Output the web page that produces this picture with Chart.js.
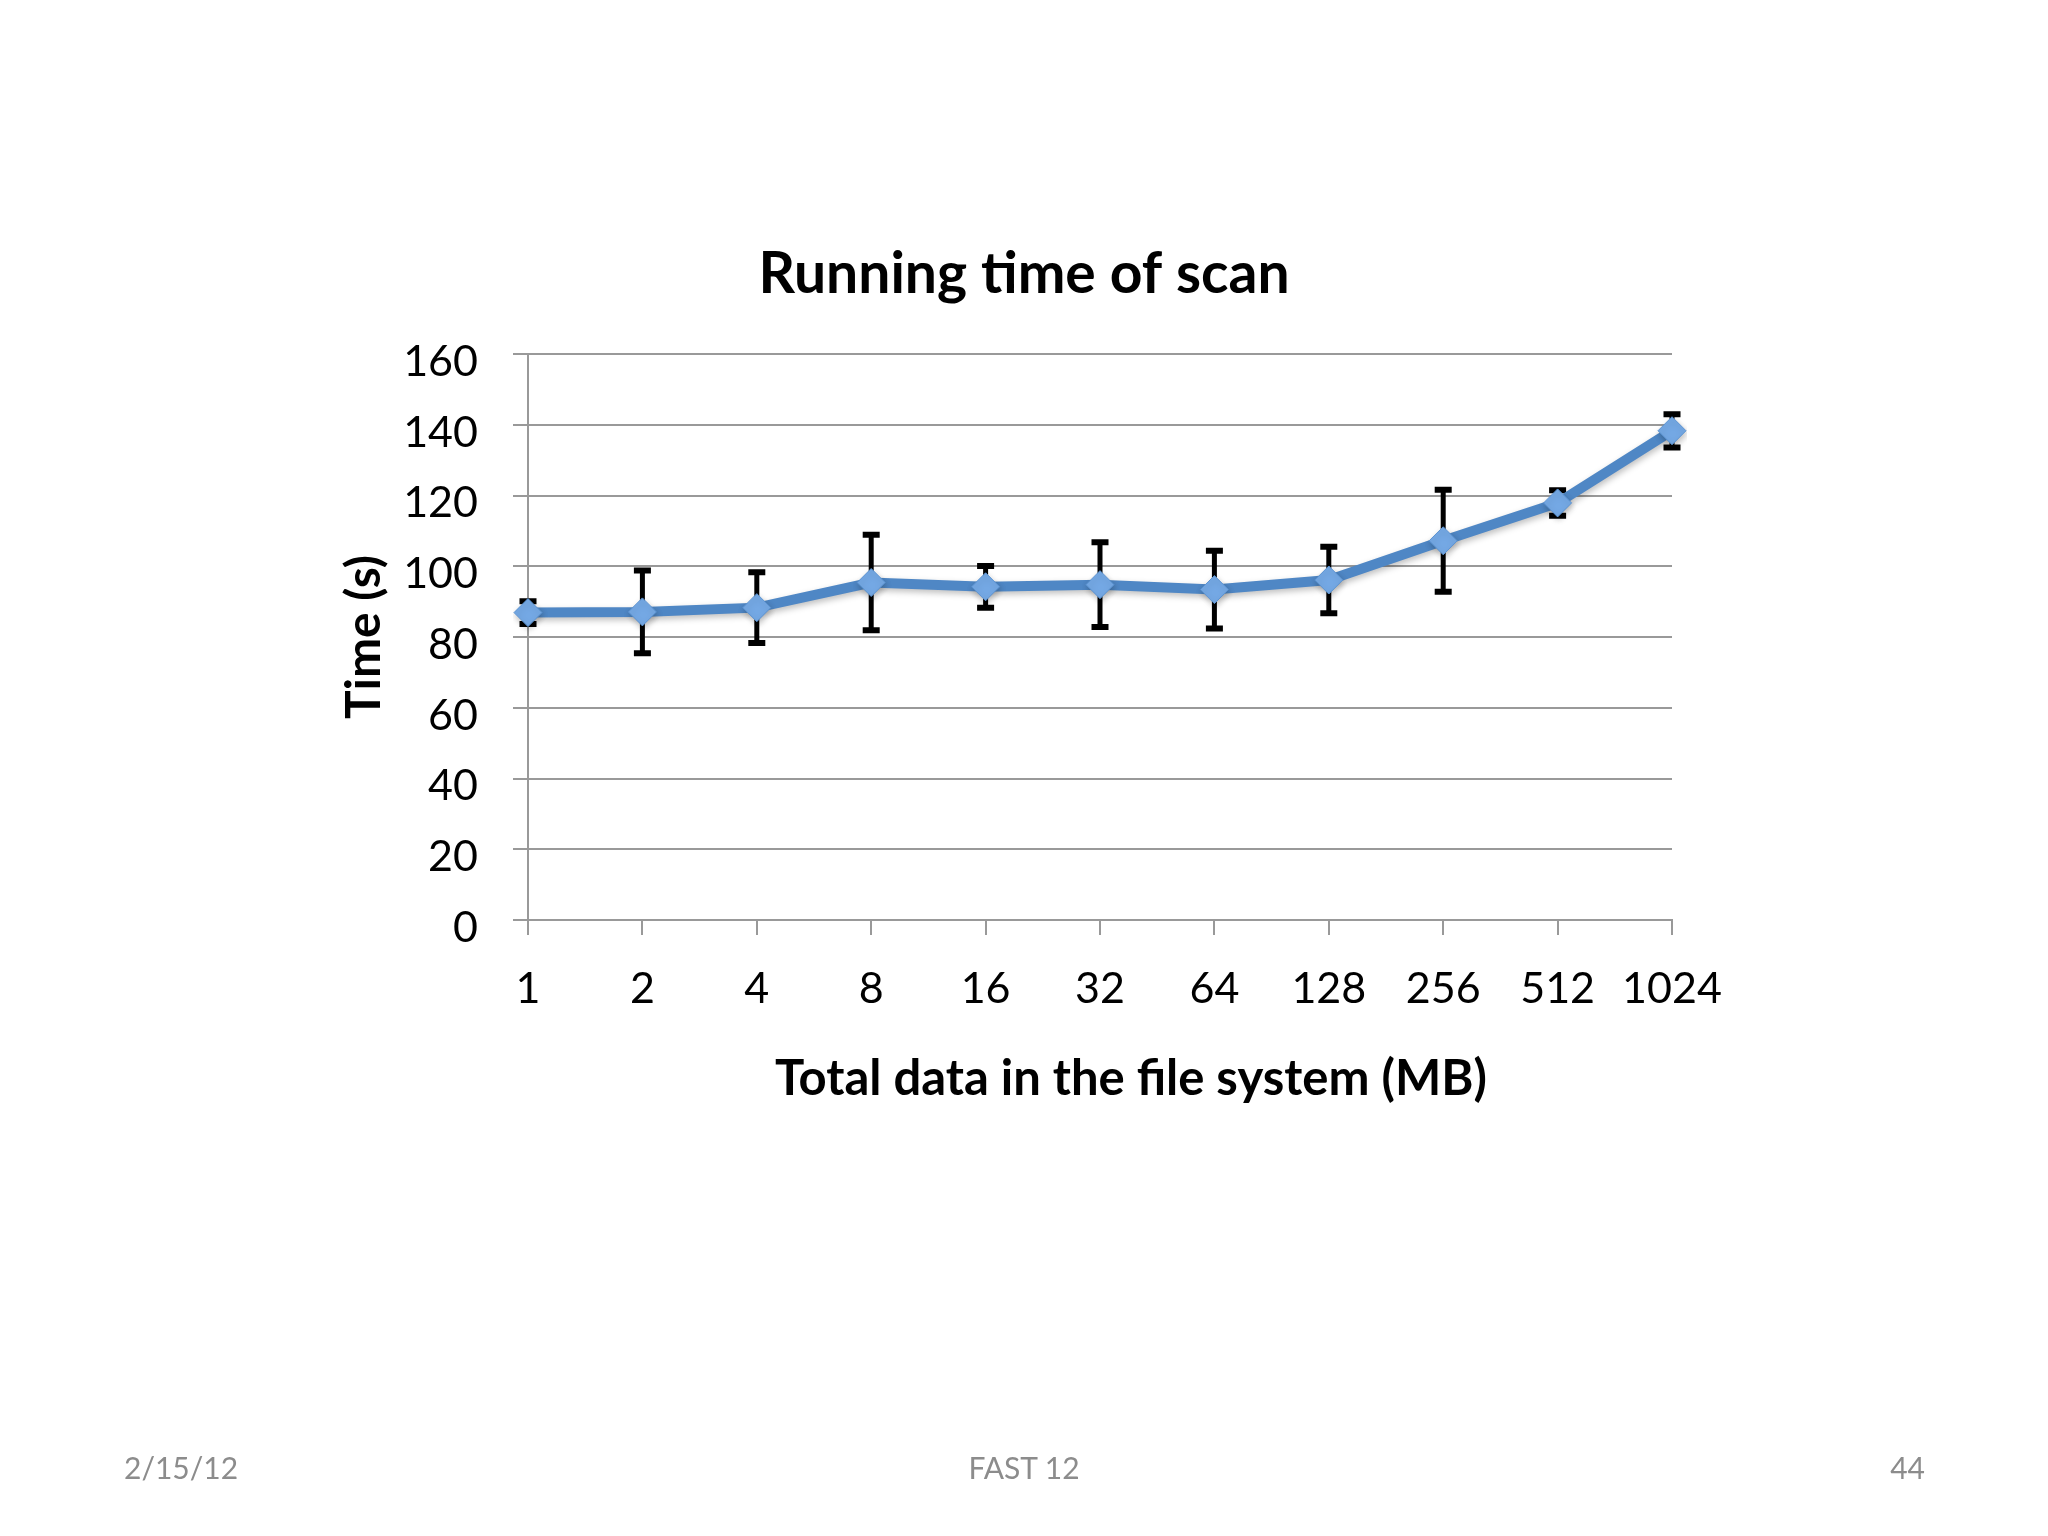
<!DOCTYPE html>
<html>
<head>
<meta charset="utf-8">
<title>Running time of scan</title>
<script src="https://cdn.jsdelivr.net/npm/chart.js@4.4.1/dist/chart.umd.min.js"></script>
<style>
    html, body { margin: 0; padding: 0; background: #fff; }
    #wrap { position: relative; width: 2048px; height: 1536px; overflow: hidden; }
    #chart { position: absolute; left: 0; top: 0; }
    .footer {
        position: absolute;
        top: 1449px;
        font-family: Lato, "Open Sans", sans-serif;
        font-size: 30px;
        line-height: 36px;
        color: #8c8c8c;
        white-space: nowrap;
    }
</style>
</head>
<body>
<div id="wrap">
    <canvas id="chart" width="2048" height="1536"></canvas>
    <div class="footer" style="left:124px;">2/15/12</div>
    <div class="footer" style="left:0; width:2048px; text-align:center;">FAST 12</div>
    <div class="footer" style="right:123px;">44</div>
</div>
<script>
// Data
const sizeLabels = ['1', '2', '4', '8', '16', '32', '64', '128', '256', '512', '1024'];
const scanTimes = [86.9, 87.1, 88.3, 95.4, 94.2, 94.8, 93.4, 96.1, 107.2, 117.9, 138.3];
const scanErrors = [3.2, 11.7, 10.0, 13.5, 5.9, 12.0, 11.0, 9.4, 14.4, 3.6, 4.7];
const yTicks = [0, 20, 40, 60, 80, 100, 120, 140, 160];

const chartTitle = 'Running time of scan';
const xTitle = 'Total data in the file system (MB)';
const yTitle = 'Time (s)';

const FONT = 'Lato, "Open Sans", sans-serif';
const AXIS_GREY = '#999999';

/**
 * Error bars drawn under the line, from the same scales
 */
const errorBarPlugin = {
    id: 'errorBars',
    beforeDatasetsDraw(chart) {
        const { ctx, scales: { x, y } } = chart;
        const cap = 8.5;
        ctx.save();
        ctx.strokeStyle = '#000';
        ctx.lineCap = 'butt';
        scanTimes.forEach((value, i) => {
            const px = x.getPixelForValue(i);
            const top = y.getPixelForValue(value + scanErrors[i]);
            const bottom = y.getPixelForValue(value - scanErrors[i]);

            ctx.lineWidth = 5;
            ctx.beginPath();
            ctx.moveTo(px, top);
            ctx.lineTo(px, bottom);
            ctx.stroke();

            // caps
            ctx.lineWidth = 6;
            ctx.beginPath();
            ctx.moveTo(px - cap, top);
            ctx.lineTo(px + cap, top);
            ctx.moveTo(px - cap, bottom);
            ctx.lineTo(px + cap, bottom);
            ctx.stroke();
        });
        ctx.restore();
    }
};

/**
 * Soft shadow under the series, like the original slide
 */
const seriesShadowPlugin = {
    id: 'seriesShadow',
    beforeDatasetDraw(chart) {
        const { ctx } = chart;
        ctx.save();
        ctx.shadowColor = 'rgba(0, 0, 0, 0.25)';
        ctx.shadowBlur = 6;
        ctx.shadowOffsetX = 1;
        ctx.shadowOffsetY = 3;
    },
    afterDatasetDraw(chart) {
        chart.ctx.restore();
    }
};

/**
 * Slide title and x axis title (the built-in ones can't be offset like the original)
 */
const slideTitlesPlugin = {
    id: 'slideTitles',
    afterDraw(chart) {
        const { ctx, chartArea } = chart;
        ctx.save();
        ctx.fillStyle = '#000';
        ctx.textAlign = 'center';
        ctx.textBaseline = 'middle';

        ctx.font = 'bold 57px ' + FONT;
        ctx.fillText(chartTitle, chart.width / 2, chartArea.top - 79);

        ctx.font = 'bold 49px ' + FONT;
        ctx.fillText(xTitle, (chartArea.left + chartArea.right) / 2 + 31, chartArea.bottom + 159);
        ctx.restore();
    }
};

const ctx = document.getElementById('chart').getContext('2d');

new Chart(ctx, {
    type: 'line',
    data: {
        labels: sizeLabels,
        datasets: [{
            data: scanTimes,
            borderColor: '#4f87c5',
            borderWidth: 10,
            tension: 0,
            fill: false,
            pointStyle: 'rectRot',
            pointRadius: 14,
            pointHoverRadius: 14,
            pointBackgroundColor: '#74a8e4',
            pointBorderColor: '#5b93d2',
            pointBorderWidth: 1
        }]
    },
    options: {
        responsive: false,
        animation: false,
        devicePixelRatio: 1,
        layout: {
            padding: { top: 354, right: 376, bottom: 416, left: 0 }
        },
        plugins: {
            legend: { display: false },
            tooltip: { enabled: false },
            title: { display: false }
        },
        scales: {
            x: {
                type: 'category',
                offset: false,
                grid: {
                    drawOnChartArea: false,
                    drawTicks: true,
                    tickLength: 15,
                    color: AXIS_GREY,
                    lineWidth: 2
                },
                border: { color: AXIS_GREY, width: 2 },
                ticks: {
                    color: '#000',
                    padding: 28,
                    maxRotation: 0,
                    autoSkip: false,
                    font: { family: FONT, size: 43 }
                },
                afterFit(scale) {
                    scale.height = 200;
                }
            },
            y: {
                min: yTicks[0],
                max: yTicks[yTicks.length - 1],
                afterBuildTicks(scale) {
                    scale.ticks = yTicks.map(v => ({ value: v }));
                },
                grid: {
                    drawTicks: true,
                    tickLength: 15,
                    color: AXIS_GREY,
                    lineWidth: 2
                },
                border: { color: AXIS_GREY, width: 2 },
                ticks: {
                    color: '#000',
                    padding: 35,
                    labelOffset: 8,
                    font: { family: FONT, size: 43 }
                },
                title: {
                    display: true,
                    text: yTitle,
                    color: '#000',
                    font: { family: FONT, size: 48, weight: 'bold' },
                    padding: { top: 336, bottom: 0 }
                },
                afterFit(scale) {
                    scale.width = 528;
                }
            }
        }
    },
    plugins: [errorBarPlugin, seriesShadowPlugin, slideTitlesPlugin]
});
</script>
</body>
</html>
